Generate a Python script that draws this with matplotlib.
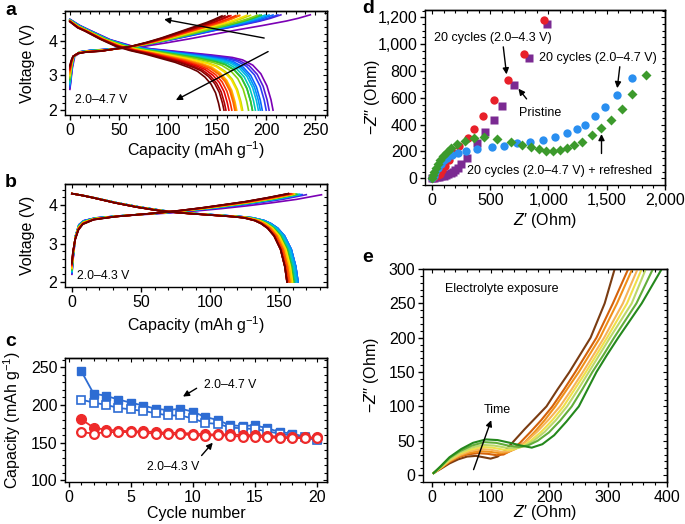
import numpy as np
import matplotlib
matplotlib.use('Agg')
import matplotlib.pyplot as plt
from matplotlib.colors import LinearSegmentedColormap
from matplotlib.ticker import MultipleLocator, FuncFormatter

plt.rcParams['font.family'] = ['Liberation Sans', 'DejaVu Sans']
plt.rcParams['mathtext.fontset'] = 'custom'
plt.rcParams['mathtext.rm'] = 'Liberation Sans'
plt.rcParams['mathtext.it'] = 'Liberation Sans:italic'
plt.rcParams['mathtext.bf'] = 'Liberation Sans:bold'
plt.rcParams['axes.linewidth'] = 1.0

# ---------------- data ----------------
cycles = list(range(1, 21))
# panel c (also capacities used for panels a/b curve ends)
cap47_charge = [245, 215, 212, 207, 203, 199, 195, 193, 195, 191, 184, 180, 173, 172, 173, 169, 164, 162, 158, 155]
cap47_dis = [207, 203, 200, 196, 194, 192, 189, 186, 186, 182, 176, 175, 170, 169, 168, 165, 162, 159, 157, 153]
cap43_charge = [181, 170, 167, 166, 165, 165, 164, 163, 163, 162, 161, 161, 161, 160, 160, 159, 158, 157, 157, 157]
cap43_dis = [164, 162, 164, 164, 164, 163, 162, 161, 161, 160, 159, 160, 159, 158, 158, 157, 156, 156, 156, 156]

# panel a voltage profiles (fraction of cycle capacity -> V), first and last cycle
a_dis_frac = [0, .05, .1, .2, .3, .4, .5, .6, .7, .8, .85, .9, .94, .97, .99, 1.0]
a_dis_V_first = [4.62, 4.44, 4.30, 4.03, 3.86, 3.77, 3.71, 3.65, 3.59, 3.52, 3.45, 3.30, 3.05, 2.70, 2.30, 2.0]
a_dis_V_last = [4.55, 4.38, 4.28, 4.05, 3.85, 3.72, 3.62, 3.50, 3.38, 3.22, 3.12, 2.95, 2.75, 2.50, 2.20, 2.0]
a_chg_frac = [0, .01, .02, .05, .1, .2, .3, .4, .5, .6, .7, .8, .9, .95, 1]
a_chg_V_first = [2.6, 3.2, 3.55, 3.69, 3.73, 3.77, 3.83, 3.94, 4.06, 4.19, 4.32, 4.44, 4.57, 4.65, 4.75]
a_chg_V_last = [3.3, 3.45, 3.55, 3.63, 3.67, 3.70, 3.77, 3.84, 3.95, 4.08, 4.23, 4.38, 4.53, 4.62, 4.72]

# panel b voltage profiles
b_dis_frac = [0, .05, .1, .2, .3, .4, .5, .6, .7, .75, .8, .85, .88, .91, .94, .97, .99, 1]
b_dis_V = [4.3, 4.25, 4.19, 4.06, 3.95, 3.86, 3.80, 3.76, 3.72, 3.70, 3.67, 3.60, 3.52, 3.40, 3.20, 2.85, 2.40, 2.0]
b_chg_frac = [0, .005, .015, .03, .05, .1, .2, .3, .4, .5, .6, .7, .8, .9, 1]
b_chg_V_first = [2.2, 2.6, 3.2, 3.5, 3.6, 3.67, 3.72, 3.76, 3.80, 3.85, 3.91, 3.98, 4.06, 4.15, 4.27]
b_chg_V_last = [2.5, 2.8, 3.1, 3.35, 3.5, 3.62, 3.70, 3.75, 3.80, 3.86, 3.93, 4.01, 4.09, 4.19, 4.30]

# panel d: Nyquist scatter
d_prist_x = [0, 20, 40, 60, 80, 100, 120, 140, 160, 180, 200, 220, 245, 300, 386, 457, 529, 600, 700, 829, 990]
d_prist_y = [0, 3, 6, 10, 15, 20, 26, 33, 40, 50, 62, 80, 105, 150, 260, 347, 438, 540, 698, 898, 1150]
d_43_x = [0, 15, 30, 50, 70, 90, 110, 145, 185, 230, 305, 360, 440, 530, 650, 790, 960]
d_43_y = [0, 8, 15, 22, 35, 60, 95, 140, 190, 240, 297, 370, 465, 585, 730, 925, 1180]
d_47_x = [0, 15, 30, 50, 75, 100, 130, 170, 220, 290, 386, 514, 614, 729, 843, 957, 1057, 1157, 1243, 1314, 1400, 1486, 1586, 1714]
d_47_y = [0, 20, 45, 75, 110, 135, 155, 175, 190, 205, 215, 235, 243, 260, 272, 285, 309, 339, 371, 396, 463, 532, 624, 750]
d_ref_x = [0, 10, 20, 35, 50, 70, 95, 125, 165, 215, 280, 360, 450, 560, 680, 770, 850, 920, 980, 1040, 1100, 1160, 1220, 1290, 1370, 1450, 1540, 1630, 1720, 1840]
d_ref_y = [0, 25, 50, 80, 105, 135, 165, 195, 225, 255, 280, 300, 308, 295, 270, 250, 235, 215, 200, 200, 210, 225, 245, 270, 320, 375, 435, 520, 625, 770]

# panel e: electrolyte exposure Nyquist curves
e_x = [
    [3, 15, 30, 45, 60, 75, 88, 100, 112, 125, 140, 158, 176, 195, 214, 234, 252, 270, 294, 311],
    [3, 15, 30, 45, 60, 78, 95, 110, 122, 135, 150, 168, 186, 205, 225, 244, 262, 280, 308, 334],
    [3, 15, 30, 45, 62, 80, 98, 115, 128, 142, 158, 175, 192, 210, 230, 250, 268, 286, 315, 341],
    [3, 15, 30, 47, 65, 83, 100, 118, 132, 146, 162, 180, 199, 218, 238, 257, 275, 293, 325, 350],
    [3, 15, 30, 47, 65, 85, 103, 122, 137, 152, 168, 186, 205, 224, 243, 262, 280, 298, 332, 357],
    [3, 15, 30, 48, 67, 87, 106, 126, 142, 157, 173, 192, 211, 230, 249, 267, 285, 303, 340, 364],
    [3, 15, 30, 48, 68, 89, 109, 130, 148, 163, 180, 199, 218, 238, 256, 273, 292, 310, 348, 376],
    [3, 15, 30, 50, 70, 92, 112, 133, 152, 170, 188, 208, 229, 250, 265, 280, 298, 317, 357, 391],
]
e_y = [
    [3, 9, 17, 23, 27, 28, 26, 24, 27, 36, 50, 67, 83, 100, 125, 150, 175, 200, 250, 300],
    [3, 10, 19, 26, 30, 32, 31, 29, 30, 36, 47, 63, 80, 100, 125, 150, 175, 200, 250, 300],
    [3, 10, 20, 27, 32, 35, 34, 32, 33, 38, 48, 63, 80, 100, 125, 150, 175, 200, 250, 300],
    [3, 11, 21, 29, 35, 38, 37, 34, 35, 40, 50, 64, 81, 100, 125, 150, 175, 200, 250, 300],
    [3, 11, 22, 31, 37, 41, 40, 37, 37, 41, 50, 63, 80, 100, 125, 150, 175, 200, 250, 300],
    [3, 12, 23, 33, 40, 44, 43, 40, 39, 42, 50, 63, 80, 100, 125, 150, 175, 200, 250, 300],
    [3, 12, 25, 35, 43, 48, 47, 43, 41, 43, 50, 62, 79, 100, 125, 150, 175, 200, 250, 300],
    [3, 13, 26, 38, 47, 52, 51, 47, 43, 40, 45, 58, 78, 100, 125, 150, 175, 200, 250, 300],
]
e_colors = ['#7a3c12', '#d4620a', '#f0901a', '#f6b45a', '#f0e04a', '#bcd86a', '#62ae3a', '#24881c']

rainbow = LinearSegmentedColormap.from_list('rb', [
    '#7b00b5', '#3a2cf0', '#0070ff', '#00b4f0', '#00d0a0', '#30c030', '#a8d800',
    '#ffe000', '#ffa000', '#ff5a00', '#f00000', '#a00000', '#6a0000'])

# ---------------- figure ----------------
W, H = 685, 524
FS = 11.5      # tick/axis label size
AFS = 9.0      # annotation size
fig = plt.figure(figsize=(W / 100, H / 100), dpi=100)


def add_ax(l, t, r, b):
    return fig.add_axes([l / W, 1 - b / H, (r - l) / W, (b - t) / H])


def style(ax, xmaj, xmin, ymaj, ymin, fs=FS):
    ax.xaxis.set_major_locator(MultipleLocator(xmaj))
    ax.xaxis.set_minor_locator(MultipleLocator(xmin))
    ax.yaxis.set_major_locator(MultipleLocator(ymaj))
    ax.yaxis.set_minor_locator(MultipleLocator(ymin))
    ax.tick_params(which='major', direction='out', length=3.5, width=1, labelsize=fs, pad=2)
    ax.tick_params(which='minor', direction='out', length=2, width=0.8)
    sx = ax.secondary_xaxis('top')
    sx.xaxis.set_major_locator(MultipleLocator(xmaj))
    sx.xaxis.set_minor_locator(MultipleLocator(xmin))
    sx.tick_params(which='major', direction='in', length=3, labeltop=False)
    sx.tick_params(which='minor', direction='in', length=2, width=0.8)
    sy = ax.secondary_yaxis('right')
    sy.yaxis.set_major_locator(MultipleLocator(ymaj))
    sy.yaxis.set_minor_locator(MultipleLocator(ymin))
    sy.tick_params(which='major', direction='in', length=3, labelright=False)
    sy.tick_params(which='minor', direction='in', length=2, width=0.8)


def labels(ax, xl, yl, xy_x, xy_y, fs=FS):
    ax.set_xlabel(xl, fontsize=fs)
    ax.set_ylabel(yl, fontsize=fs)
    ax.xaxis.label.set_va('center')
    ax.yaxis.label.set_va('center')
    ax.xaxis.set_label_coords(0.5, xy_x)
    ax.yaxis.set_label_coords(xy_y, 0.5)


def arrow(ax, head, tail, lw=1.0, ms=9):
    ax.annotate('', xy=head, xytext=tail,
                arrowprops=dict(arrowstyle='-|>', color='black', lw=lw, mutation_scale=ms,
                                shrinkA=0, shrinkB=0))


n = len(cycles)
cap_label = r'Capacity (mAh g$^{-1}$)'

# ---- panel a ----
axa = add_ax(65, 11, 327, 115)
for i in range(n):
    w = i / (n - 1)
    c = rainbow(w)
    vd = (1 - w) * np.array(a_dis_V_first) + w * np.array(a_dis_V_last)
    vc = (1 - w) * np.array(a_chg_V_first) + w * np.array(a_chg_V_last)
    axa.plot(np.array(a_chg_frac) * cap47_charge[i], vc, color=c, lw=1.2)
    axa.plot(np.array(a_dis_frac) * cap47_dis[i], vd, color=c, lw=1.2)
axa.set_xlim(-5, 262)
axa.set_ylim(1.86, 4.86)
style(axa, 50, 10, 1, 0.2)
labels(axa, cap_label, 'Voltage (V)', -0.34, -0.145)
axa.text(5, 2.29, '2.0–4.7 V', fontsize=8.8, va='center', ha='left')
arrow(axa, (96, 4.62), (198, 4.08))
arrow(axa, (108, 2.29), (202, 3.69))

# ---- panel b ----
axb = add_ax(65, 184, 327, 287)
for i in range(n):
    w = i / (n - 1)
    c = rainbow(w)
    vc = (1 - w) * np.array(b_chg_V_first) + w * np.array(b_chg_V_last)
    axb.plot(np.array(b_chg_frac) * cap43_charge[i], vc, color=c, lw=1.2)
    axb.plot(np.array(b_dis_frac) * cap43_dis[i], b_dis_V, color=c, lw=1.2)
axb.set_xlim(-5, 185)
axb.set_ylim(1.87, 4.55)
style(axb, 50, 10, 1, 0.2)
labels(axb, cap_label, 'Voltage (V)', -0.37, -0.145)
axb.text(4, 2.15, '2.0–4.3 V', fontsize=8.8, va='center', ha='left')

# ---- panel c ----
axc = add_ax(65, 358, 327, 482)
blue = '#2d6cd3'
red = '#ee2a2a'
axc.plot(cycles, cap47_charge, '-s', color=blue, ms=6, lw=1.3, mec=blue)
axc.plot(cycles, cap47_dis, '-s', color=blue, ms=5.2, lw=1.3, mfc='white', mec=blue, mew=1.2)
axc.plot(cycles, cap43_charge, '-o', color=red, ms=7, lw=1.3, mec=red)
axc.plot(cycles, cap43_dis, '-o', color=red, ms=6.3, lw=1.3, mfc='white', mec=red, mew=1.6)
axc.set_xlim(-0.3, 20.8)
axc.set_ylim(98, 262)
style(axc, 5, 1, 50, 10)
labels(axc, 'Cycle number', cap_label, -0.255, -0.2)
axc.text(10.9, 226, '2.0–4.7 V', fontsize=8.8, va='center', ha='left')
arrow(axc, (9.2, 211), (10.3, 222))
axc.text(8.4, 118, '2.0–4.3 V', fontsize=8.8, va='center', ha='center')
arrow(axc, (11.6, 150), (10.7, 133))

# ---- panel d ----
axd = add_ax(425, 10, 665, 185)
axd.plot(d_prist_x, d_prist_y, 's', color='#7b2a92', ms=5.5, mec='none')
axd.plot(d_43_x, d_43_y, 'o', color='#e8202a', ms=6, mec='none')
axd.plot(d_47_x, d_47_y, 'o', color='#2a8ff0', ms=6, mec='none')
axd.plot(d_ref_x, d_ref_y, 'D', color='#3c9a2c', ms=5.5, mec='none')
axd.set_xlim(-60, 2000)
axd.set_ylim(-50, 1255)
style(axd, 500, 100, 200, 50)
fmt = FuncFormatter(lambda v, p: f'{int(round(v)):,}')
axd.xaxis.set_major_formatter(fmt)
axd.yaxis.set_major_formatter(fmt)
labels(axd, r'$Z$′ (Ohm)', r'−$Z$′′ (Ohm)', -0.2, -0.22)
axd.text(20, 1045, '20 cycles (2.0–4.3 V)', fontsize=AFS, va='center', ha='left')
arrow(axd, (640, 775), (612, 980))
axd.text(920, 900, '20 cycles (2.0–4.7 V)', fontsize=AFS, va='center', ha='left')
arrow(axd, (1590, 672), (1612, 832))
axd.text(750, 485, 'Pristine', fontsize=AFS, va='center', ha='left')
arrow(axd, (742, 668), (812, 592))
axd.text(300, 55, '20 cycles (2.0–4.7 V) + refreshed', fontsize=AFS, va='center', ha='left')
arrow(axd, (1455, 330), (1455, 185))

# ---- panel e ----
axe = add_ax(423, 269, 667, 482)
for xs, ys, c in zip(e_x, e_y, e_colors):
    axe.plot(xs, ys, color=c, lw=1.5)
axe.set_xlim(-15, 400)
axe.set_ylim(-10, 300)
style(axe, 100, 20, 50, 10)
labels(axe, r'$Z$′ (Ohm)', r'−$Z$′′ (Ohm)', -0.145, -0.21)
axe.text(23, 271, 'Electrolyte exposure', fontsize=AFS, va='center', ha='left')
axe.text(111, 95, 'Time', fontsize=AFS, va='center', ha='center')
arrow(axe, (101, 80), (71, 8))

# panel letters
for lab, x, y in [('a', 5, 15), ('b', 5, 187), ('c', 5, 346), ('d', 362, 13), ('e', 362, 262)]:
    fig.text(x / W, 1 - y / H, lab, fontsize=14, fontweight='bold', va='baseline', ha='left')

fig.savefig('out.png', dpi=100)
